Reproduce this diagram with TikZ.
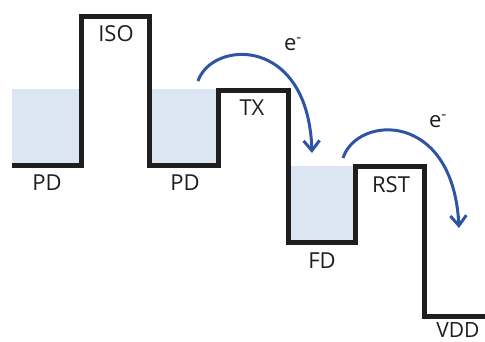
\documentclass[tikz,border=0pt]{standalone}
\usepackage{fontspec}
\setmainfont{Open Sans}
\definecolor{wellfill}{RGB}{220,230,242}
\definecolor{eblue}{RGB}{47,84,166}
\definecolor{barrier}{RGB}{30,30,30}
\usetikzlibrary{arrows.meta}
\tikzset{
  potential/.style={draw=barrier, line width=5pt, line join=miter},
  well/.style={fill=wellfill, draw=none},
  lbl/.style={font=\fontsize{22}{24}\selectfont, text=barrier, inner sep=0pt},
  hop/.style={-{Straight Barb[length=10pt, width=16pt]}, draw=eblue, line width=3pt},
}

\begin{document}
\begin{tikzpicture}[x=1pt, y=-1pt]
  \useasboundingbox (0,0) rectangle (485,341);

  % charge in the wells
  \fill[well] (12,89) rectangle (81,165);
  \fill[well] (149,89) rectangle (218,165);
  \fill[well] (287,166) rectangle (355,242);

  % potential profile
  \draw[potential] (12,165) -- (81,165) -- (81,16) -- (149,16) -- (149,165)
    -- (218,165) -- (218,90) -- (288,90) -- (288,242) -- (355,242)
    -- (355,166) -- (424,166) -- (424,316) -- (490,316);

  \node[lbl] (pdleft) at (47,183) {PD};
  \node[lbl] (iso) at (116,34) {ISO};
  \node[lbl] (pdright) at (185,183) {PD};
  \node[lbl] (tx) at (252,108) {TX};
  \node[lbl] (fd) at (322,261) {FD};
  \node[lbl] (rst) at (391,185) {RST};
  \node[lbl, font=\fontsize{21}{24}\selectfont] (vdd) at (458,329.5) {VDD};
  \node[lbl] (etx) at (293,44) {e\textsuperscript{-}};
  \node[lbl] (erst) at (438,121) {e\textsuperscript{-}};

  % electron transfer
  \coordinate (pdsurf) at (198,81);
  \coordinate (fdin) at (312,153);
  \coordinate (fdsurf) at (343,158);
  \coordinate (vddin) at (459,228);
  \draw[hop] (pdsurf) .. controls (212,40) and (308,35) .. (fdin);
  \draw[hop] (fdsurf) .. controls (357,115) and (453,110) .. (vddin);
\end{tikzpicture}
\end{document}
